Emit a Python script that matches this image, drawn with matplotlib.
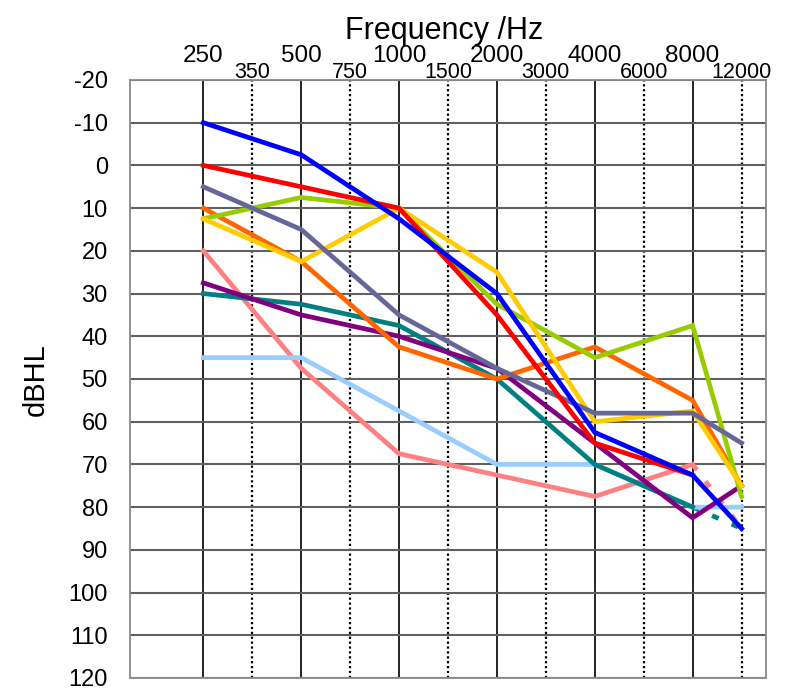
"""Audiogram: hearing thresholds of ten listeners across frequency."""

import matplotlib
matplotlib.use("Agg")
import matplotlib.pyplot as plt
import numpy as np

plt.rcParams['font.family'] = ['Liberation Sans', 'DejaVu Sans']
plt.rcParams['axes.unicode_minus'] = False

# Frequencies (Hz) on the top axis
octave_freqs = [250, 500, 1000, 2000, 4000, 8000]
half_freqs = [350, 750, 1500, 3000, 6000, 12000]
test_freqs = [250, 500, 1000, 2000, 4000, 8000, 12000]

# Thresholds in dB HL at test_freqs (red stops at 8000 Hz)
blue = [-10, -2.5, 12.5, 30, 62.5, 72.5, 85]
red = [0, 5, 10, 35, 65, 72.5]
green = [12.5, 7.5, 10, 32.5, 45, 37.5, 77.5]
yellow = [12.5, 22.5, 10, 25, 60, 57.5, 75]
orange = [10, 22.5, 42.5, 50, 42.5, 55, 75]
slate = [5, 15, 35, 47.5, 58, 58, 65]
purple = [27.5, 35, 40, 47.5, 65, 82.5, 75]
teal = [30, 32.5, 37.5, 50, 70, 80]
light_blue = [45, 45, 57.5, 70, 70, 80, 80]
pink = [20, 47.5, 67.5, 72.5, 77.5, 70]

# Extrapolated 12000 Hz values drawn dashed
teal_tail = 85
pink_tail = 85

# Piecewise log scale: every labelled frequency is one equal step
grid_f = sorted(octave_freqs + half_freqs)
lg = np.log(grid_f)
idx = np.arange(len(grid_f), dtype=float)


def f2x(f):
    lf = np.log(np.clip(np.asarray(f, dtype=float), 1e-3, None))
    x = np.interp(lf, lg, idx)
    x = np.where(lf < lg[0], (lf - lg[0]) / (lg[1] - lg[0]), x)
    x = np.where(lf > lg[-1], idx[-1] + (lf - lg[-1]) / (lg[-1] - lg[-2]), x)
    return x


def x2f(x):
    x = np.asarray(x, dtype=float)
    lf = np.interp(x, idx, lg)
    lf = np.where(x < 0, lg[0] + x * (lg[1] - lg[0]), lf)
    lf = np.where(x > idx[-1], lg[-1] + (x - idx[-1]) * (lg[-1] - lg[-2]), lf)
    return np.exp(lf)


fig = plt.figure(figsize=(7.88, 6.93), dpi=100)
ax = fig.add_axes([130 / 788, 15 / 693, 636 / 788, 598 / 693])
ax.set_xscale('function', functions=(f2x, x2f))
ax.set_xlim(x2f(-1.5), x2f(11.5))
ax.set_ylim(120, -20)

# Series, bottom to top
series = [
    (pink, '#FF8080'),
    (light_blue, '#99CCFF'),
    (teal, '#008080'),
    (purple, '#800080'),
    (orange, '#FF6600'),
    (green, '#99CC00'),
    (yellow, '#FFCC00'),
    (slate, '#666699'),
    (red, '#FF0000'),
    (blue, '#0000FF'),
]
for values, color in series:
    ax.plot(test_freqs[:len(values)], values, color=color, lw=3.4,
            solid_joinstyle='miter', zorder=3)

ax.plot([8000, 12000], [pink[-1], pink_tail], color='#FF8080', lw=3.4,
        ls=(0, (1.5, 3)), zorder=2.9)
ax.plot([8000, 12000], [teal[-1], teal_tail], color='#008080', lw=3.4,
        ls=(0, (1.5, 3)), zorder=2.95)

# Axes, ticks and grid
ax.set_yticks(range(-20, 121, 10))
ax.set_xticks(octave_freqs)
ax.set_xticklabels([str(f) for f in octave_freqs])
ax.set_xticks(half_freqs, minor=True)
ax.set_xticklabels([str(f) for f in half_freqs], minor=True)

ax.tick_params(axis='y', length=0, pad=16, labelsize=17)
ax.tick_params(axis='x', which='both', length=0, bottom=False, labelbottom=False,
               top=True, labeltop=True)
ax.tick_params(axis='x', which='major', labelsize=17.5, pad=13)
ax.tick_params(axis='x', which='minor', labelsize=15.5, pad=1.5)
for lbl in ax.get_xticklabels(which='both'):
    lbl.set_verticalalignment('baseline')

ax.grid(axis='y', color='#606060', lw=1.5)
ax.grid(axis='x', which='major', color='black', lw=1.2)
ax.grid(axis='x', which='minor', color='black', lw=1.6, ls=(0, (1, 1.2)))
ax.set_axisbelow(True)
for sp in ax.spines.values():
    sp.set_color('#8a8a8a')
    sp.set_linewidth(1.3)

fig.text(444 / 788, 1 - 39 / 693, 'Frequency /Hz', ha='center', va='baseline',
         fontsize=22)
fig.text(36 / 788, 1 - 380 / 693, 'dBHL', rotation=90, ha='center', va='center',
         fontsize=21)

fig.savefig('out.png', dpi=100)
